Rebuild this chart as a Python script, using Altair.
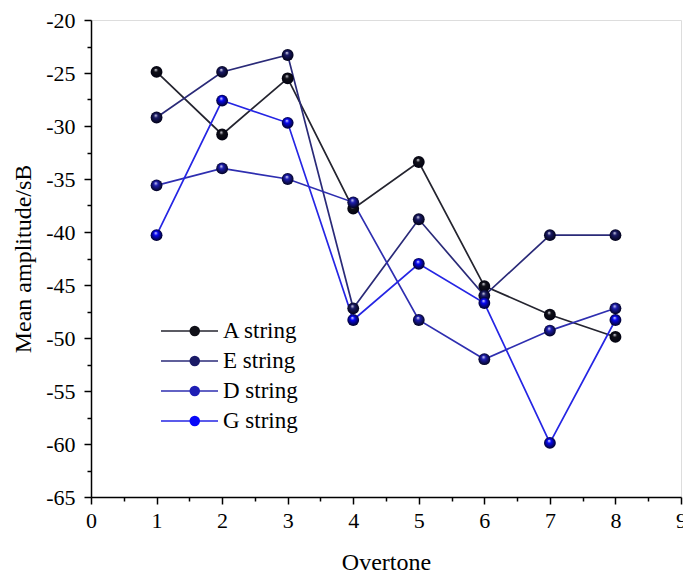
import altair as alt
import pandas as pd

overtone = [1, 2, 3, 4, 5, 6, 7, 8]
series_names = ["A string", "E string", "D string", "G string"]
a_string = [-24.9, -30.8, -25.5, -37.8, -33.4, -45.1, -47.8, -49.9]
e_string = [-29.2, -24.9, -23.3, -47.2, -38.8, -46.0, -40.3, -40.3]
d_string = [-35.6, -34.0, -35.0, -37.2, -48.3, -52.0, -49.3, -47.2]
g_string = [-40.3, -27.6, -29.7, -48.3, -43.0, -46.7, -59.9, -48.3]
x_ticks = [0, 0.5, 1, 1.5, 2, 2.5, 3, 3.5, 4, 4.5, 5, 5.5, 6, 6.5, 7, 7.5, 8, 8.5, 9]
y_ticks = [-65, -62.5, -60, -57.5, -55, -52.5, -50, -47.5, -45, -42.5, -40,
           -37.5, -35, -32.5, -30, -27.5, -25, -22.5, -20]

line_colors = ["#24242f", "#2a2a78", "#2e2eb0", "#2525e4"]
ball_colors = ["#101018", "#1a1a66", "#1e1eb4", "#0808f8"]

rows = []
for name, vals in zip(series_names, [a_string, e_string, d_string, g_string]):
    for o, v in zip(overtone, vals):
        rows.append({"series": name, "overtone": o, "value": v})
df = pd.DataFrame(rows)

FONT = "Liberation Serif"

x_enc = alt.X(
    "overtone:Q",
    scale=alt.Scale(domain=[0, 9], nice=False, zero=False),
    axis=alt.Axis(
        title="Overtone", values=x_ticks,
        labelExpr="datum.value % 1 === 0 ? toString(datum.value) : ''",
        tickSize={"condition": {"test": "datum.value % 1 !== 0", "value": 4}, "value": 7},
        labelFont=FONT, labelFontSize=22, labelColor="#000", labelPadding=6,
        titleFont=FONT, titleFontSize=24, titleFontWeight="normal", titleColor="#000",
        titlePadding=19, grid=False, domainColor="#000", domainWidth=1.5,
        tickColor="#000", tickWidth=1.5, labelFlush=False, labelOverlap=False,
    ),
)
y_enc = alt.Y(
    "value:Q",
    scale=alt.Scale(domain=[-65, -20], nice=False, zero=False),
    axis=alt.Axis(
        title="Mean amplitude/sB", values=y_ticks,
        labelExpr="datum.value % 5 === 0 ? toString(datum.value) : ''",
        tickSize={"condition": {"test": "datum.value % 5 !== 0", "value": 4}, "value": 7},
        labelFont=FONT, labelFontSize=22, labelColor="#000", labelPadding=9,
        titleFont=FONT, titleFontSize=24, titleFontWeight="normal", titleColor="#000",
        titlePadding=10, grid=False, domainColor="#000", domainWidth=1.5,
        tickColor="#000", tickWidth=1.5, labelFlush=False, labelOverlap=False,
    ),
)

LEG_X = 69
LEG_Y = 296
SYM_W = 57

lines = alt.Chart(df).mark_line(strokeWidth=1.7).encode(
    x=x_enc, y=y_enc,
    stroke=alt.Stroke(
        "series:N",
        scale=alt.Scale(domain=series_names, range=line_colors),
        sort=series_names,
        legend=alt.Legend(
            title=None, orient="none", legendX=LEG_X, legendY=LEG_Y, padding=0,
            symbolType="M-1,0H1", symbolSize=SYM_W * SYM_W, symbolStrokeWidth=1.7,
            clipHeight=30, rowPadding=0, labelOffset=4,
            labelFont=FONT, labelFontSize=23, labelColor="#000",
        ),
    ),
    detail="series:N",
)

legend_balls = alt.Chart(df).transform_filter("false").mark_point(
    filled=True, shape="circle", size=110, opacity=1
).encode(
    x=x_enc, y=y_enc,
    fill=alt.Fill(
        "series:N",
        scale=alt.Scale(domain=series_names, range=ball_colors),
        sort=series_names,
        legend=alt.Legend(
            title=None, orient="none", legendX=LEG_X + SYM_W / 2 - 5.25, legendY=LEG_Y,
            padding=0, symbolType="circle", symbolSize=110, symbolOpacity=1,
            clipHeight=30, rowPadding=0, labelOffset=4, labelExpr="''",
            labelFont=FONT, labelFontSize=23,
        ),
    ),
)

ball_layers = []
for name, col in zip(series_names, ball_colors):
    grad = {
        "gradient": "radial",
        "x1": 0.42, "y1": 0.3, "r1": 0.0,
        "x2": 0.5, "y2": 0.5, "r2": 0.55,
        "stops": [
            {"offset": 0.0, "color": "#f4f4ff"},
            {"offset": 0.3, "color": col},
            {"offset": 1.0, "color": "#000010"},
        ],
    }
    ball_layers.append(
        alt.Chart(df).transform_filter(alt.datum.series == name)
        .mark_point(filled=True, shape="circle", size=140, fill=grad, opacity=1)
        .encode(x=x_enc, y=y_enc)
    )

chart = alt.layer(lines, legend_balls, *ball_layers).resolve_scale(
    stroke="independent", fill="independent"
).properties(
    width=590, height=477,
    autosize=alt.AutoSizeParams(type="none"),
    padding={"left": 91, "top": 20, "right": 2, "bottom": 79},
).configure_view(stroke="#000", strokeWidth=1.5).configure(background="white")

chart.save("out.html", embed_options={"renderer": "svg", "actions": False})
